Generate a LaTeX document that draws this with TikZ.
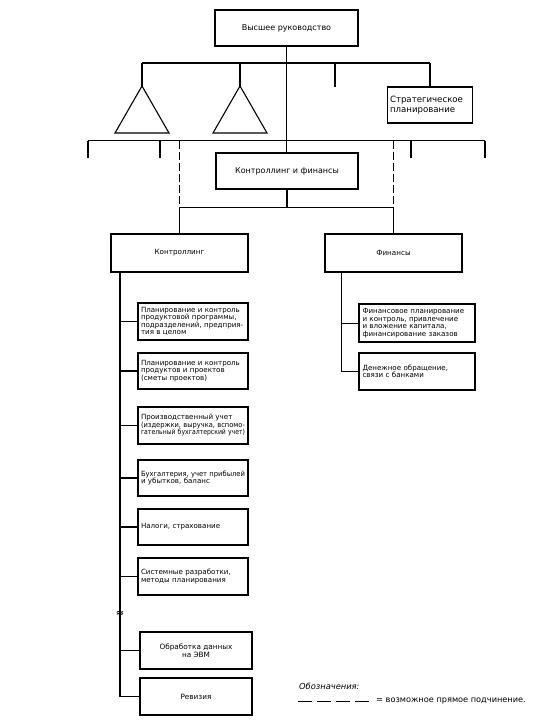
\documentclass[tikz,border=0pt]{standalone}
\usepackage{fontspec}
\usepackage{graphicx}
\setmainfont{DejaVu Sans}
\newcommand{\jl}[1]{\setbox0\hbox{#1}\ifdim\wd0>\hsize\resizebox{\hsize}{\height}{#1}\else\makebox[\hsize][s]{#1}\fi\\}
\begin{document}
\begin{tikzpicture}[x=1pt,y=-1pt,
  ln/.style={line width=1.1pt},
  box/.style={draw,line width=1.1pt,inner sep=0pt,align=center},
  tbox/.style={draw,line width=1.1pt,inner sep=0pt,align=left,
     font=\fontsize{7.1}{7.5}\selectfont},
  dsh/.style={line width=0.8pt,dash pattern=on 8pt off 3pt},
  big/.style={font=\fontsize{8}{9}\selectfont},
  mid/.style={font=\fontsize{7.2}{8}\selectfont}]
\useasboundingbox (0,0) rectangle (547,728);
% top
\node[box,big,minimum width=143pt,minimum height=36pt] (top) at (286.5,28) {Высшее руководство};
\node[tbox,minimum width=85pt,minimum height=36pt,text width=80pt,font=\fontsize{8.6}{10}\selectfont] (strat) at (430,105) {Стратегическое\\планирование};
\node[box,big,minimum width=142pt,minimum height=36pt] (cf) at (287,171) {Контроллинг и финансы};
\node[box,mid,minimum width=137pt,minimum height=38pt] (K) at (179.5,253) {Контроллинг};
\node[box,mid,minimum width=137pt,minimum height=38pt] (F) at (393.5,253) {Финансы};
% Controlling boxes
\node[tbox,minimum width=110pt,minimum height=37pt,text width=104pt] (k1) at (193,321.5)
 {\jl{Планирование и контроль}\jl{продуктовой программы,}\jl{подразделений, предприя-}тия в целом};
\node[tbox,minimum width=110pt,minimum height=36pt,text width=104pt] (k2) at (193,371)
 {\jl{Планирование и контроль}продуктов и проектов\\(сметы проектов)};
\node[tbox,minimum width=110pt,minimum height=37pt,text width=104pt] (k3) at (193,425.5)
 {Производственный учет\\\jl{(издержки, выручка, вспомо-}\jl{гательный бухгалтерский учет)}};
\node[tbox,minimum width=110pt,minimum height=36pt,text width=104pt] (k4) at (193,478)
 {\jl{Бухгалтерия, учет прибылей}и убытков, баланс};
\node[tbox,minimum width=110pt,minimum height=36pt,text width=104pt] (k5) at (193,527)
 {Налоги, страхование};
\node[tbox,minimum width=110pt,minimum height=37pt,text width=104pt] (k6) at (193,576.5)
 {\jl{Системные разработки,}методы планирования};
\node[box,font=\fontsize{7.3}{7.8}\selectfont,minimum width=112pt,minimum height=37pt] (k7) at (196,650.5)
 {Обработка данных\\на ЭВМ};
\node[box,font=\fontsize{7.3}{7.8}\selectfont,minimum width=112pt,minimum height=37pt] (k8) at (196,696.5)
 {Ревизия};
% Finance boxes
\node[tbox,minimum width=116pt,minimum height=38pt,text width=109pt] (f1) at (417,323)
 {Финансовое планирование\\и контроль, привлечение\\и вложение капитала,\\финансирование заказов};
\node[tbox,minimum width=116pt,minimum height=37pt,text width=109pt] (f2) at (417,371.5)
 {Денежное обращение,\\связи с банками};
% triangles
\coordinate (t1) at (142,86);
\coordinate (t2) at (240,86);
\draw[ln] (t1) -- (115,133) -- (169,133) -- cycle;
\draw[ln] (t2) -- (213,133) -- (267,133) -- cycle;
% upper bar
\coordinate (ubL) at (142,63);
\coordinate (ubM) at (240,63);
\coordinate (ubS) at (335,63);
\coordinate (ubSe) at (335,87);
\coordinate (ubR) at (430,63);
\draw[ln] (ubL) -- (ubR);
\draw[ln] (ubL) -- (t1);
\draw[ln] (ubM) -- (t2);
\draw[ln] (ubS) -- (ubSe);
\draw[ln] (ubR) -- (strat.north);
% centre line
\draw[ln] (top.south) -- (top.south |- cf.north);
% lower bar
\coordinate (lb1) at (88,140.5);
\coordinate (lb1e) at (88,158);
\coordinate (lb2) at (160,140.5);
\coordinate (lb2e) at (160,158);
\coordinate (lb3) at (411,140.5);
\coordinate (lb3e) at (411,158);
\coordinate (lb4) at (485,140.5);
\coordinate (lb4e) at (485,158);
\coordinate (dl) at (179.5,140.5);
\coordinate (dr) at (393.5,140.5);
\coordinate (ml) at (179.5,207.5);
\coordinate (mr) at (393.5,207.5);
\draw[ln] (lb1) -- (lb4);
\draw[ln] (lb1) -- (lb1e);
\draw[ln] (lb2) -- (lb2e);
\draw[ln] (lb3) -- (lb3e);
\draw[ln] (lb4) -- (lb4e);
\draw[dsh] (dl) -- (ml);
\draw[dsh] (dr) -- (mr);
% below cf
\draw[ln] (cf.south) -- (cf.south |- ml);
\draw[ln] (ml) -- (mr);
\draw[ln] (ml) -- (K.north);
\draw[ln] (mr) -- (F.north);
% controlling spine
\coordinate (kt) at (120,272);
\draw[ln] (kt) |- (k8.west);
\foreach \n in {k1,k2,k3,k4,k5,k6,k7} \draw[ln] (kt |- \n.west) -- (\n.west);
\node[font=\bfseries\fontsize{10}{10}\selectfont,inner sep=0pt] (brk) at (120,614) {≈};
% finance spine
\coordinate (ft) at (341,272);
\draw[line width=0.8pt] (ft) |- (f2.west);
\draw[line width=0.8pt] (ft |- f1.west) -- (f1.west);
% legend
\node[anchor=west,inner sep=0pt,font=\itshape\fontsize{8.3}{9}\selectfont] (leg) at (299,686) {Обозначения:};
\coordinate (d1) at (298,701.5);
\coordinate (d2) at (372,701.5);
\draw[line width=0.9pt,dash pattern=on 14pt off 5pt] (d1) -- (d2);
\node[anchor=west,inner sep=0pt,font=\fontsize{8.2}{9}\selectfont] (legt) at (376,701.5) {= возможное прямое подчинение.};
\end{tikzpicture}
\end{document}
